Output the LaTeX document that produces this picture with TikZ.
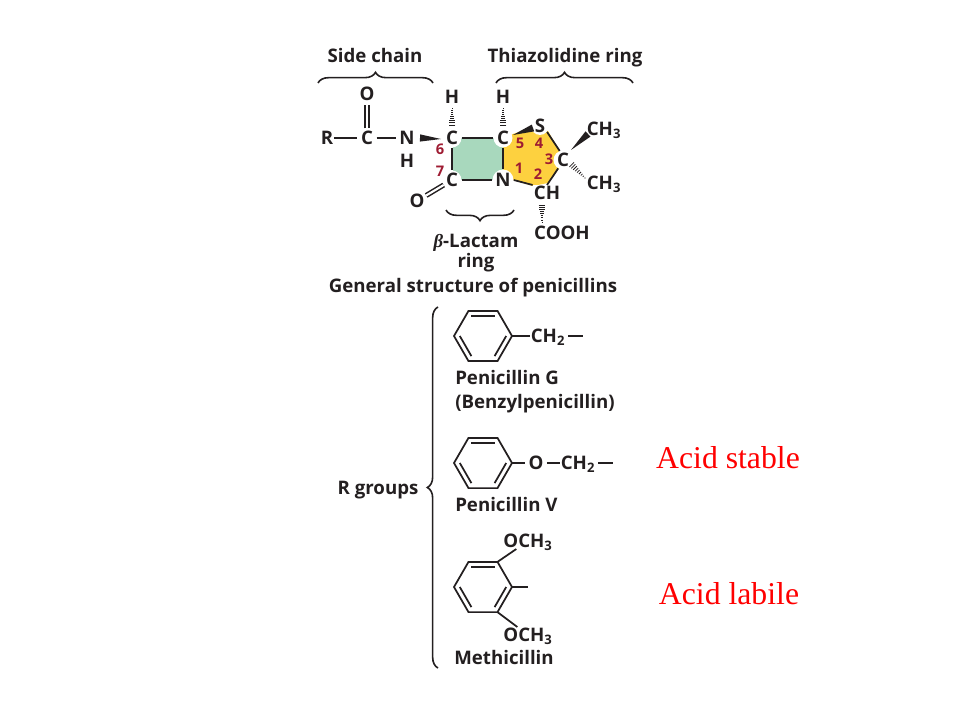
\documentclass[tikz,border=0pt]{standalone}
\usepackage{fontspec}
\setmainfont{Open Sans}
\newfontfamily\redfont{Liberation Serif}
\usetikzlibrary{calc,shapes.geometric,decorations.pathreplacing}
\definecolor{inkgrey}{HTML}{231F20}
\definecolor{lactamgreen}{HTML}{A8D8BD}
\definecolor{thiazyellow}{HTML}{FDD13F}
\definecolor{numberred}{HTML}{9E1B32}
\tikzset{
    bond/.style={inkgrey, line width=1.3pt},
    dbond/.style={inkgrey, line width=1.1pt, double, double distance=1.6pt},
    atom/.style={circle, fill=white, text=inkgrey, font=\bfseries\fontsize{14}{16}\selectfont, inner sep=0.2pt},
    group/.style={rectangle, text=inkgrey, font=\bfseries\fontsize{14}{16}\selectfont, inner sep=0.8pt, text height=10pt, text depth=0pt},
    title/.style={text=inkgrey, font=\bfseries\fontsize{14}{16}\selectfont, inner sep=0pt, text height=10pt, text depth=0pt},
    number/.style={text=numberred, font=\bfseries\fontsize{11}{13}\selectfont, inner sep=0pt},
    acid/.style={text=red, font=\redfont\fontsize{23.8}{26}\selectfont, inner sep=0pt},
    brace/.style={inkgrey, line width=1.2pt, decorate, decoration={brace, amplitude=#1}},
    ring/.style={regular polygon, regular polygon sides=6, minimum size=43.5pt, inner sep=0pt, outer sep=0pt, draw=inkgrey, line width=1.3pt},
}
\newcommand{\benzenering}[2]{
    \node [ring] (#1) at (#2) {};
    \draw [bond] ($(#1)!.8!(#1.corner 1)$) -- ($(#1)!.8!(#1.corner 2)$);
    \draw [bond] ($(#1)!.8!(#1.corner 3)$) -- ($(#1)!.8!(#1.corner 4)$);
    \draw [bond] ($(#1)!.8!(#1.corner 5)$) -- ($(#1)!.8!(#1.corner 6)$);
}
\newcommand{\solidwedge}[2]{
    \fill [inkgrey] ($(#1)!2.7pt!90:(#2)$) -- ($(#1)!2.7pt!-90:(#2)$) -- (#2) -- cycle;
}
\newcommand{\hashwedge}[2]{
    \foreach \t in {0,1,...,9}
        \draw [inkgrey, line width=0.55pt] ($(#1)!\t/9!(#2)!{0.3pt+\t*0.27pt}!90:(#2)$) -- ($(#1)!\t/9!(#2)!{0.3pt+\t*0.27pt}!-90:(#2)$);
}
\begin{document}
\begin{tikzpicture}[x=0.75pt, y=-0.75pt]
    \useasboundingbox (0, 0) rectangle (960, 720);

    \fill [lactamgreen] (453, 138) rectangle (504, 180);
    \fill [thiazyellow] (503, 138) -- (513, 134) -- (533, 127) -- (548, 131) -- (559, 150) -- (561, 166) -- (548, 183) -- (533, 186) -- (513, 180) -- (503, 178) -- cycle;

    \node [group] (R) at (327, 138) {R};
    \node [atom] (Cs) at (367, 138) {C};
    \node [atom] (Os) at (367, 94) {O};
    \node [atom] (Ns) at (407, 138) {N};
    \node [atom] (Hs) at (407, 161) {H};
    \node [atom] (C6) at (452, 138) {C};
    \node [atom] (C5) at (503, 138) {C};
    \node [atom] (C7) at (452, 180) {C};
    \node [atom] (N1) at (503, 180) {N};
    \node [atom] (H6) at (452, 97) {H};
    \node [atom] (H5) at (503, 97) {H};
    \node [atom] (O7) at (417, 201) {O};
    \node [atom] (S4) at (540, 126) {S};
    \node [atom] (C3) at (563, 160) {C};
    \node [group, fill=white] (C2) at (547, 193) {CH};
    \node [group] (CH3a) at (604, 129) {CH\textsubscript{3}};
    \node [group] (CH3b) at (604, 183) {CH\textsubscript{3}};
    \node [group] (COOH) at (562, 233) {COOH};

    \draw [bond] (R) -- (Cs);
    \draw [bond] (Cs) -- (Ns);
    \draw [dbond] (Cs) -- (Os);
    \draw [bond] (C6) -- (C5);
    \draw [bond] (C6) -- (C7);
    \draw [bond] (C7) -- (N1);
    \draw [bond] (C5) -- (N1);
    \draw [dbond] (C7) -- (O7);
    \draw [bond] (S4.-40) -- (C3.110);
    \draw [bond] (C3.-120) -- (C2.north);
    \draw [bond] (N1.east) -- (C2.north west);

    \coordinate (wedgeN) at (420, 138);
    \coordinate (wedgeC6) at (441, 139);
    \coordinate (wedgeS) at (533, 128);
    \coordinate (wedgeC5) at (513, 135);
    \coordinate (wedgeCa) at (588, 134);
    \coordinate (wedgeC3) at (571, 150);
    \solidwedge{wedgeN}{wedgeC6}
    \solidwedge{wedgeS}{wedgeC5}
    \solidwedge{wedgeCa}{wedgeC3}

    \coordinate (hashH6) at (452, 108);
    \coordinate (hashC6) at (452, 127);
    \coordinate (hashH5) at (503, 108);
    \coordinate (hashC5) at (503, 127);
    \coordinate (hashCb) at (585, 178);
    \coordinate (hashC3) at (570, 163);
    \coordinate (hashO) at (542, 222);
    \coordinate (hashC2) at (542, 203);
    \hashwedge{hashH6}{hashC6}
    \hashwedge{hashH5}{hashC5}
    \hashwedge{hashCb}{hashC3}
    \hashwedge{hashO}{hashC2}

    \node [number] (n6) at (440, 149) {6};
    \node [number] (n7) at (440, 171) {7};
    \node [number] (n5) at (520, 143) {5};
    \node [number] (n4) at (539, 143) {4};
    \node [number] (n3) at (549, 159) {3};
    \node [number] (n1) at (519, 168) {1};
    \node [number] (n2) at (538, 174) {2};

    \node [title] (sidechain) at (375, 56) {Side chain};
    \node [title] (thiazolidine) at (565, 56) {Thiazolidine ring};
    \node [title] (lactam) at (476, 241) {{\redfont\itshape β}-Lactam};
    \node [title] (lactamring) at (476, 261) {ring};
    \node [title] (general) at (473, 286) {General structure of penicillins};
    \draw [brace=8pt] (318, 83) -- (433, 83);
    \draw [brace=8pt] (496, 83) -- (633, 83);
    \draw [brace=8pt] (514, 210) -- (446, 210);
    \draw [brace=8pt] (438, 668) -- (438, 307);
    \node [title] (rgroups) at (378, 488) {R groups};

    \benzenering{ringG}{483, 336}
    \node [group] (CH2g) at (548, 336) {CH\textsubscript{2}};
    \coordinate (endG) at (583, 336);
    \coordinate (startG) at (568, 336);
    \draw [bond] (ringG.corner 6) -- (CH2g);
    \draw [bond] (startG) -- (endG);
    \node [title, anchor=west] (peng) at (455, 378) {Penicillin G};
    \node [title, anchor=west] (benzyl) at (455, 402) {(Benzylpenicillin)};

    \benzenering{ringV}{483, 463}
    \node [atom] (Ov) at (536, 463) {O};
    \node [group] (CH2v) at (578, 463) {CH\textsubscript{2}};
    \coordinate (endV) at (613, 463);
    \coordinate (startV) at (598, 463);
    \draw [bond] (ringV.corner 6) -- (Ov);
    \draw [bond] (Ov) -- (CH2v);
    \draw [bond] (startV) -- (endV);
    \node [title, anchor=west] (penv) at (455, 505) {Penicillin V};

    \benzenering{ringM}{483, 587}
    \node [group] (OCH3a) at (528, 541) {OCH\textsubscript{3}};
    \node [group] (OCH3b) at (528, 635) {OCH\textsubscript{3}};
    \coordinate (endM) at (528, 587);
    \draw [bond] (ringM.corner 1) -- (OCH3a);
    \draw [bond] (ringM.corner 5) -- (OCH3b);
    \draw [bond] (ringM.corner 6) -- (endM);
    \node [title] (meth) at (504, 658) {Methicillin};

    \node [acid] (stable) at (728, 458) {Acid stable};
    \node [acid] (labile) at (729, 594) {Acid labile};
\end{tikzpicture}
\end{document}
